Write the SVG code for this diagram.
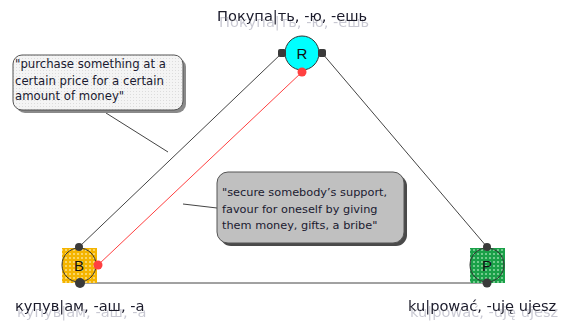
<svg xmlns="http://www.w3.org/2000/svg" width="569" height="324" viewBox="0 0 569 324">
<defs>
<pattern id="pY" width="4" height="4" patternUnits="userSpaceOnUse"><rect width="4" height="4" fill="#f4b400"/><circle cx="2" cy="2" r="1" fill="#fbe08a"/></pattern>
<pattern id="pG" width="4" height="4" patternUnits="userSpaceOnUse"><rect width="4" height="4" fill="#1aa048"/><circle cx="2" cy="2" r="1" fill="#8fd9a4"/></pattern>
<pattern id="pL" width="3" height="3" patternUnits="userSpaceOnUse"><rect width="3" height="3" fill="#f4f4f4"/><rect x="1" y="1" width="1" height="1" fill="#dcdcdc"/></pattern>
<filter id="tsh" x="-5%" y="-20%" width="115%" height="160%">
<feOffset in="SourceAlpha" dx="2" dy="6" result="o"/>
<feFlood flood-color="#c8c8d2"/>
<feComposite in2="o" operator="in" result="s"/>
<feMerge><feMergeNode in="s"/><feMergeNode in="SourceGraphic"/></feMerge>
</filter>
<style>
.lbl{font-family:"DejaVu Sans",Verdana,sans-serif;font-size:14.6px;fill:#1a1a2a;filter:url(#tsh)}
.ct{font-family:"DejaVu Sans",Verdana,sans-serif;font-size:11.3px;fill:#1a1a30}
.nl{font-family:"Liberation Sans",Arial,sans-serif;font-size:15px;fill:#111;text-anchor:middle}
.ln{stroke:#444;stroke-width:1;fill:none}
.port{fill:#3a3a3a}
.rp{fill:#ff4040}
</style>
</defs>
<g id="connectors">
<line class="ln" x1="282" y1="53" x2="79" y2="247"/>
<line class="ln" x1="322" y1="53" x2="487" y2="247"/>
<line class="ln" x1="80" y1="283" x2="487" y2="283"/>
<line x1="302" y1="72" x2="98" y2="265" stroke="#ff4040" stroke-width="1"/>
<line class="ln" x1="106" y1="113" x2="168" y2="152"/>
<line class="ln" x1="183" y1="204" x2="217" y2="208"/>
</g>
<g id="note1">
<rect x="16" y="58" width="170" height="55" rx="9" fill="#8a8a8a"/>
<rect x="13" y="55" width="170" height="55" rx="9" fill="url(#pL)" stroke="#555" stroke-width="1"/>
<text class="ct" x="15" y="68" style="font-size:11.7px">"purchase something at a</text>
<text class="ct" x="15" y="85" style="font-size:11.7px">certain price for a certain</text>
<text class="ct" x="15" y="100" style="font-size:11.7px">amount of money"</text>
</g>
<g id="note2">
<rect x="220" y="175" width="187" height="71" rx="11" fill="#4a4a4a"/>
<rect x="217" y="172" width="187" height="71" rx="11" fill="#c0c0c0" stroke="#555" stroke-width="1"/>
<text class="ct" x="222" y="196">"secure somebody’s support,</text>
<text class="ct" x="222" y="213">favour for oneself by giving</text>
<text class="ct" x="222" y="229">them money, gifts, a bribe"</text>
</g>
<g id="nodeR">
<circle cx="302" cy="53" r="17" fill="#00ffff" stroke="#333" stroke-width="1"/>
<rect class="port" x="278" y="49" width="8" height="8" rx="2"/>
<rect class="port" x="318" y="49" width="8" height="8" rx="2"/>
<circle class="rp" cx="302" cy="72" r="4.5"/>
<text class="nl" x="302" y="59">R</text>
</g>
<g id="nodeB">
<rect x="62" y="248" width="35" height="35" fill="url(#pY)"/>
<circle cx="79" cy="265" r="17" fill="none" stroke="#333" stroke-width="1"/>
<circle class="port" cx="79" cy="247" r="4"/>
<circle class="port" cx="80" cy="283" r="5"/>
<circle class="rp" cx="98" cy="265" r="4.5"/>
<text class="nl" x="79" y="271">B</text>
</g>
<g id="nodeP">
<rect x="470" y="248" width="35" height="35" fill="url(#pG)"/>
<circle cx="487" cy="265" r="17" fill="none" stroke="#333" stroke-width="1"/>
<circle class="port" cx="487" cy="247" r="4"/>
<circle class="port" cx="487" cy="283" r="4.5"/>
<text class="nl" x="487" y="271">P</text>
</g>
<g id="labelR">
<text class="lbl" x="217" y="21">Покупа|ть, -ю, -ешь</text>
</g>
<g id="labelB">
<text class="lbl" x="15" y="311">купув|ам, -аш, -а</text>
</g>
<g id="labelP">
<text class="lbl" x="408" y="311">ku|pować, -uję ujesz</text>
</g>
</svg>
